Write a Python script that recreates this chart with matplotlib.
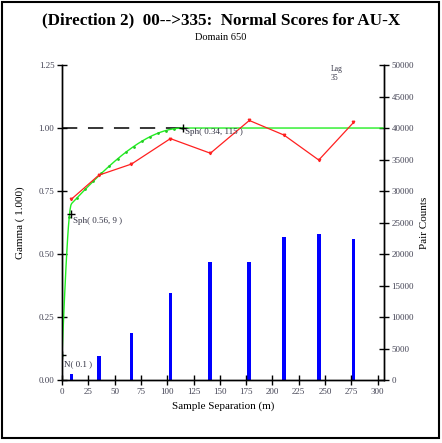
import numpy as np
import matplotlib.pyplot as plt
from matplotlib.patches import Rectangle

# experimental variogram (lags, gamma) and pair counts
lags = [9, 35, 66, 103, 141, 178, 211, 244, 277]
gamma = [0.718, 0.813, 0.857, 0.958, 0.90, 1.03, 0.972, 0.873, 1.022]
pairs = [950, 3800, 7450, 13800, 18700, 18700, 22700, 23200, 22400]

# fitted model: nugget + two spherical structures
nugget = 0.1
sph_sills = [0.56, 0.34]
sph_ranges = [9, 115]

serif = "Liberation Serif"
tick_col = "#444455"

def sph(h, c, a):
    r = np.minimum(h / a, 1.0)
    return c * (1.5 * r - 0.5 * r ** 3)

h = np.linspace(0.01, 305, 400)
model = nugget + sum(sph(h, c, a) for c, a in zip(sph_sills, sph_ranges))
h = np.concatenate([[0], h])
model = np.concatenate([[nugget], model])

fig = plt.figure(figsize=(4.42, 4.43), dpi=100)
ax = fig.add_axes([0.1403, 0.1422, 0.7285, 0.711])
ax2 = ax.twinx()

ax2.bar(lags, pairs, width=3.6, color="#0000ff", zorder=1)
ax2.set_ylim(0, 50000)

ax.set_zorder(ax2.get_zorder() + 1)
ax.patch.set_visible(False)

ax.plot([0, sph_ranges[1]], [1.0, 1.0], color="black", lw=1.1, dashes=(10, 7))
curve = h <= sph_ranges[1]
ax.plot(h, model, color="#22ee22", lw=1.0)
ax.plot(h[curve][::10], model[curve][::10], "o", color="#22cc22", ms=1.0)
ax.plot(lags, gamma, color="#ff2020", lw=0.9, marker="v", ms=1.8)

# structure markers
ax.plot([0], [nugget], "k+", ms=6, mew=1.0)
ax.plot([sph_ranges[0]], [nugget + sph_sills[0]], "k+", ms=6, mew=1.0)
ax.plot([sph_ranges[1]], [nugget + sum(sph_sills)], "k+", ms=6, mew=1.0)
ax.text(1.5, 0.055, "N( 0.1 )", fontsize=6.5, family=serif, color="#333344")
ax.text(10, 0.625, "Sph( 0.56, 9 )", fontsize=6.5, family=serif, color="#333344")
ax.text(117, 0.975, "Sph( 0.34, 115 )", fontsize=6.5, family=serif, color="#333344")

ax.set_xlim(0, 306)
ax.set_ylim(0, 1.25)
ax.set_xticks(range(0, 301, 25))
ax.set_yticks([0, 0.25, 0.5, 0.75, 1.0, 1.25])
ax.set_yticklabels(["0.00", "0.25", "0.50", "0.75", "1.00", "1.25"])
ax2.set_yticks(range(0, 50001, 5000))

for a in (ax, ax2):
    a.spines["top"].set_visible(False)
    for s in a.spines.values():
        s.set_linewidth(1.0)
    a.tick_params(direction="inout", length=7, width=1.0, labelsize=6.5,
                  labelcolor=tick_col, pad=2)
    for lab in a.get_xticklabels() + a.get_yticklabels():
        lab.set_family(serif)

ax.set_xlabel("Sample Separation (m)", family=serif, fontsize=8, labelpad=4)
ax.set_ylabel("Gamma ( 1.000)", family=serif, fontsize=8, labelpad=10)
ax2.set_ylabel("Pair Counts", family=serif, fontsize=8, labelpad=4)

ax.text(0.835, 1.0, "Lag\n35", transform=ax.transAxes, fontsize=5.5,
        family=serif, va="top", color="#333344")

fig.text(0.5, 0.955, "(Direction 2)  00-->335:  Normal Scores for AU-X",
         ha="center", va="center", family=serif, fontsize=12.3, weight="bold")
fig.text(0.5, 0.915, "Domain 650", ha="center", va="center", family=serif,
         fontsize=7.5)

fig.patches.append(Rectangle((0.004, 0.012), 0.99, 0.984, transform=fig.transFigure,
                             fill=False, lw=1.5, ec="black"))

fig.savefig("out.png", dpi=100)
